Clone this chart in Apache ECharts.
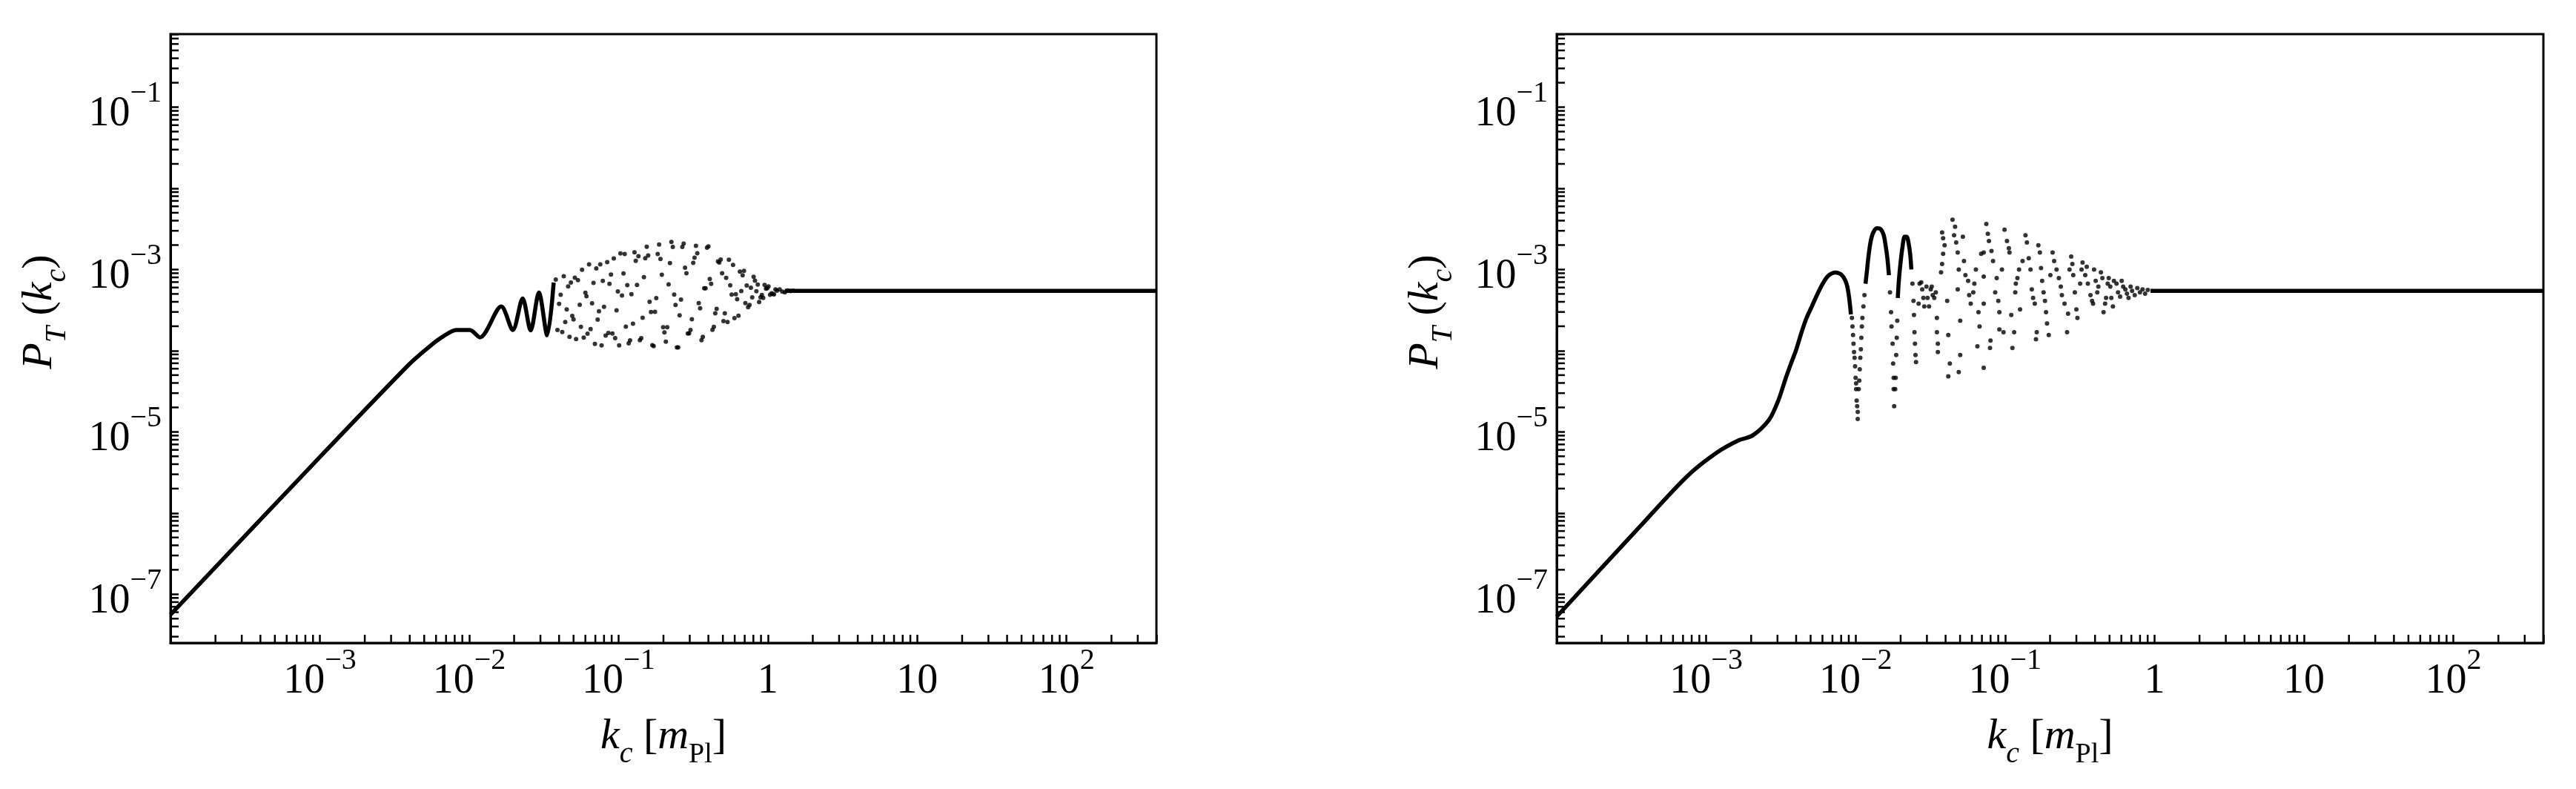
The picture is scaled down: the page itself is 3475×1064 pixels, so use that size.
<!DOCTYPE html>
<html><head><meta charset="utf-8">
<script src="https://cdn.jsdelivr.net/npm/echarts@6/dist/echarts.min.js"></script>
<style>html,body{margin:0;padding:0;background:#fff}#c{width:3475px;height:1064px}</style>
</head><body><div id="c"></div>
<script>
// ---------- axis ranges & tick labels ----------
const X_MIN = 1e-4, X_MAX = 400;
const Y_MIN = 2.512e-8, Y_MAX = 0.794;
const xTickValues = [1e-3, 1e-2, 1e-1, 1, 10, 100];
const xTickLabels = ['10^\u22123', '10^\u22122', '10^\u22121', '1', '10', '10^2'];
const yTickValues = [1e-7, 1e-5, 1e-3, 1e-1];
const yTickLabels = ['10^\u22127', '10^\u22125', '10^\u22123', '10^\u22121'];
const minorMultipliers = [2, 3, 4, 5, 6, 7, 8, 9];

// ---------- left panel data ----------
const leftLine = [[1.0e-4,5.6e-8],[8.9e-4,3.9e-6],[4.0e-3,6.9e-5],[5.5e-3,1.15e-4],[6.7e-3,1.5e-4],[8.2e-3,1.8e-4],[1.01e-2,1.8e-4],[1.18e-2,1.46e-4],[1.64e-2,3.5e-4],[1.96e-2,1.8e-4],[2.28e-2,4.4e-4],[2.58e-2,1.78e-4],[2.93e-2,5.2e-4],[3.33e-2,1.55e-4],[3.68e-2,6.9e-4]];
const leftFlat = [[1.3,5.45e-4],[400,5.45e-4]];
const leftCloudA = [[0.038,7.5e-4],[0.040,3.77e-4],[0.042,1.7e-4],[0.044,2.26e-4],[0.046,6.2e-4],[0.048,6.9e-4],[0.050,2.43e-4],[0.052,1.39e-4],[0.055,3.67e-4],[0.057,9.95e-4],[0.060,5.18e-4],[0.062,1.62e-4],[0.065,1.85e-4],[0.068,6.84e-4],[0.071,1.03e-3],[0.074,3.06e-4],[0.077,1.16e-4],[0.080,3.48e-4],[0.084,1.23e-3],[0.087,6.65e-4],[0.091,1.63e-4],[0.095,1.43e-4],[0.099,5.37e-4],[0.103,1.58e-3],[0.108,8.95e-4],[0.112,1.98e-4],[0.117,1.23e-4],[0.122,4.95e-4],[0.128,1.63e-3],[0.133,6.47e-4],[0.139,1.35e-4],[0.145,2.54e-4],[0.151,1.38e-3],[0.158,1.49e-3],[0.165,2.99e-4],[0.172,1.14e-4],[0.179,4.44e-4],[0.187,2.03e-3],[0.195,8.63e-4],[0.203,1.68e-4],[0.212,1.95e-4],[0.221,1.2e-3],[0.231,1.9e-3],[0.241,3.65e-4],[0.251,1.1e-4],[0.262,4.27e-4],[0.273,2.08e-3],[0.285,9.0e-4],[0.297,1.64e-4],[0.310,2.44e-4],[0.323,1.4e-3],[0.337,1.59e-3],[0.352,3.33e-4],[0.367,1.48e-4],[0.383,5.88e-4],[0.400,1.93e-3],[0.417,6.65e-4],[0.435,1.97e-4],[0.454,3.27e-4],[0.473,1.22e-3],[0.494,9.0e-4],[0.515,2.89e-4],[0.537,2.25e-4],[0.560,6.4e-4],[0.585,1.14e-3],[0.610,4.97e-4],[0.636,2.7e-4],[0.664,5.43e-4],[0.692,9.64e-4],[0.722,6.37e-4],[0.754,3.65e-4],[0.786,4.54e-4],[0.820,7.28e-4],[0.856,6.52e-4],[0.893,4.55e-4],[0.931,4.47e-4],[0.972,5.8e-4],[1.01,6.2e-4],[1.06,5.1e-4],[1.10,4.94e-4],[1.15,5.48e-4],[1.20,5.69e-4],[1.25,5.35e-4],[1.30,5.23e-4],[1.36,5.51e-4],[1.42,5.43e-4],[1.48,5.47e-4]];
const leftCloudB = [[0.039,1.80e-4],[0.041,4.89e-4],[0.043,8.26e-4],[0.045,3.22e-4],[0.047,1.48e-4],[0.049,2.68e-4],[0.051,7.94e-4],[0.0535,7.4e-4],[0.056,1.97e-4],[0.0585,1.45e-4],[0.061,4.68e-4],[0.0635,1.16e-3],[0.0665,3.83e-4],[0.0695,1.21e-4],[0.0725,2.42e-4],[0.0755,1.16e-3],[0.0785,7.26e-4],[0.082,1.54e-4],[0.0855,1.65e-4],[0.089,8.67e-4],[0.093,1.37e-3],[0.097,3.14e-4],[0.101,1.16e-4],[0.1055,4.78e-4],[0.11,1.55e-3],[0.1145,6.41e-4],[0.1195,1.34e-4],[0.125,2.15e-4],[0.1305,1.28e-3],[0.136,1.46e-3],[0.142,1.43e-4],[0.148,8.07e-4],[0.1545,1.91e-3],[0.1615,4.0e-4],[0.1685,1.17e-4],[0.1755,3.01e-4],[0.183,1.55e-3],[0.191,1.35e-3],[0.199,1.95e-4],[0.2075,1.29e-4],[0.2165,6.55e-4],[0.226,2.19e-3],[0.236,4.9e-4],[0.246,1.1e-4],[0.2565,2.72e-4],[0.2675,1.9e-3],[0.279,1.05e-3],[0.291,1.63e-4],[0.3035,1.8e-4],[0.3165,1.21e-3],[0.33,1.96e-3],[0.3445,3.85e-4],[0.3595,1.35e-4],[0.375,5.86e-4],[0.3915,1.86e-3],[0.4085,7.62e-4],[0.426,1.81e-4],[0.4445,2.88e-4],[0.4635,1.26e-3],[0.4835,1.33e-3],[0.5045,2.32e-4],[0.526,7.9e-4],[0.5485,1.32e-3],[0.5725,4.9e-4],[0.5975,2.52e-4],[0.623,4.3e-4],[0.65,9.44e-4],[0.678,8.47e-4],[0.707,3.85e-4],[0.738,3.44e-4],[0.77,5.96e-4],[0.803,8.13e-4],[0.838,5.4e-4],[0.8745,3.98e-4],[0.912,4.85e-4],[0.9515,6.47e-4],[0.99,5.86e-4],[1.035,4.89e-4],[1.08,5.01e-4],[1.125,5.69e-4]];

// ---------- right panel data ----------
const rightLine = [[1.0e-4,5.3e-8],[3.6e-4,6.8e-7],[7.4e-4,2.8e-6],[1.17e-3,5.5e-6],[1.66e-3,7.9e-6],[2.04e-3,9.0e-6],[2.63e-3,1.4e-5],[3.03e-3,2.4e-5],[3.41e-3,4.6e-5],[3.70e-3,7.0e-5],[4.01e-3,1.04e-4],[4.35e-3,1.69e-4],[4.70e-3,2.54e-4],[5.09e-3,3.5e-4],[5.75e-3,5.7e-4],[6.49e-3,8.2e-4],[7.31e-3,9.2e-4],[8.11e-3,8.5e-4],[8.79e-3,6.2e-4],[9.30e-3,2.8e-4]];
const rightArc2 = [[1.165e-2,6.68e-4],[1.193e-2,1.0e-3],[1.222e-2,1.5e-3],[1.262e-2,2.24e-3],[1.313e-2,2.86e-3],[1.389e-2,3.23e-3],[1.469e-2,3.15e-3],[1.542e-2,2.64e-3],[1.592e-2,1.91e-3],[1.631e-2,1.38e-3],[1.671e-2,8.51e-4]];
const rightArc3 = [[1.915e-2,4.46e-4],[1.946e-2,7.24e-4],[1.994e-2,1.17e-3],[2.06e-2,1.91e-3],[2.126e-2,2.53e-3],[2.195e-2,2.53e-3],[2.266e-2,2.07e-3],[2.322e-2,1.5e-3],[2.36e-2,1.0e-3]];
const rightDips = [[9.45e-3,2.53e-4],[9.53e-3,1.99e-4],[9.61e-3,1.56e-4],[9.68e-3,1.22e-4],[9.76e-3,9.6e-5],[9.84e-3,8.17e-5],[9.92e-3,6.41e-5],[1.0e-2,4.64e-5],[1.008e-2,3.95e-5],[1.008e-2,3.36e-5],[1.016e-2,2.43e-5],[1.024e-2,2.07e-5],[1.033e-2,1.76e-5],[1.033e-2,1.44e-5],[1.049e-2,3.36e-5],[1.058e-2,4.28e-5],[1.066e-2,5.91e-5],[1.075e-2,8.17e-5],[1.084e-2,1.04e-4],[1.092e-2,1.44e-4],[1.101e-2,1.99e-4],[1.11e-2,2.53e-4],[1.128e-2,3.5e-4],[1.146e-2,4.83e-4],[1.698e-2,5.24e-4],[1.726e-2,2.98e-4],[1.739e-2,1.99e-4],[1.768e-2,1.22e-4],[1.782e-2,6.95e-5],[1.796e-2,4.64e-5],[1.796e-2,3.36e-5],[1.811e-2,2.07e-5],[1.84e-2,3.36e-5],[1.854e-2,4.64e-5],[1.869e-2,8.86e-5],[1.884e-2,1.44e-4],[1.9e-2,2.34e-4],[2.4e-2,6.68e-4],[2.438e-2,4.11e-4],[2.457e-2,2.75e-4],[2.477e-2,1.69e-4],[2.496e-2,1.22e-4],[2.516e-2,8.86e-5],[2.536e-2,7.24e-5]];
const rightCloud = [[0.0264,3.79e-4],[0.0268,6.68e-4],[0.0275,6.95e-4],[0.0279,5.68e-4],[0.0284,4.46e-4],[0.0288,3.5e-4],[0.0298,6.16e-4],[0.0303,4.46e-4],[0.031,3.5e-4],[0.0318,5.68e-4],[0.0323,6.16e-4],[0.0328,4.83e-4],[0.0336,4.46e-4],[0.0344,5.24e-4],[0.035,2.53e-4],[0.035,1.69e-4],[0.0355,1.22e-4],[0.0355,9.6e-5],
[0.0373,9.23e-4],[0.0379,2.86e-3],[0.0379,1.17e-3],[0.0385,2.43e-3],[0.0385,1.56e-3],[0.0394,1.99e-3],[0.041,4.11e-4],[0.0417,1.56e-4],[0.0417,4.83e-5],[0.0427,6.95e-5],[0.0445,4.11e-3],[0.0456,2.64e-3],[0.0463,3.36e-3],[0.0471,2.15e-3],[0.0482,1.62e-3],[0.0482,5.68e-4],[0.049,1.0e-3],[0.049,5.45e-5],[0.0501,2.34e-4],[0.0501,8.86e-5],[0.0522,2.53e-3],[0.0531,1.27e-3],[0.0543,8.51e-4],[0.0566,7.24e-4],[0.0575,4.83e-4],[0.0589,3.79e-4],[0.0613,5.24e-4],[0.0623,6.68e-4],[0.0638,1.0e-3],[0.0653,1.13e-4],[0.0664,2.98e-4],[0.0675,1.99e-4],[0.0692,1.56e-3],[0.072,1.62e-3],[0.072,8.17e-4],[0.072,3.79e-4],[0.072,6.16e-5],[0.0749,3.64e-3],[0.0767,2.75e-3],[0.078,2.24e-3],[0.0793,1.08e-4],[0.0799,1.33e-4],[0.0811,1.69e-3],[0.0831,1.27e-3],[0.0859,5.24e-4],[0.0879,7.85e-4],[0.0901,4.11e-4],[0.0916,2.98e-4],[0.0916,1.83e-4],[0.0953,1.0e-3],[0.0976,1.69e-4],[0.0992,3.1e-3],[0.103,2.24e-3],[0.106,1.83e-3],[0.107,1.62e-3],[0.110,2.75e-4],[0.112,1.08e-4],[0.115,1.69e-4],[0.117,5.24e-4],[0.118,6.68e-4],[0.121,7.85e-4],[0.124,1.0e-3],[0.126,3.23e-4],[0.131,1.27e-3],[0.137,2.64e-3],[0.140,2.15e-3],[0.144,1.38e-3],[0.148,1.0e-3],[0.151,5.68e-4],[0.154,4.46e-4],[0.158,3.79e-4],[0.161,1.38e-4],[0.163,1.69e-4],[0.167,1.99e-3],[0.171,1.62e-3],[0.174,1.04e-3],[0.177,7.24e-4],[0.181,5.24e-4],[0.185,4.11e-4],[0.188,2.98e-4],[0.191,2.16e-4],[0.196,1.56e-4],[0.201,8.51e-4],[0.208,1.62e-3],[0.213,1.27e-3],[0.221,1.0e-3],[0.229,7.85e-4],[0.236,6.16e-4],[0.240,4.83e-4],[0.250,3.79e-4],[0.260,1.69e-4],[0.264,2.86e-4],[0.270,1.0e-3],[0.277,1.44e-3],[0.282,1.17e-3],[0.286,8.51e-4],[0.293,5.24e-4],[0.300,3.23e-4],[0.305,2.53e-4],[0.318,6.68e-4],[0.325,1.0e-3],[0.330,1.22e-3],[0.344,8.51e-4],[0.352,1.08e-3],[0.358,6.68e-4],[0.373,4.83e-4],[0.382,4.11e-4],[0.388,3.79e-4],[0.394,1.0e-3],[0.404,7.24e-4],[0.414,5.24e-4],[0.421,6.16e-4],[0.438,9.23e-4],[0.448,7.85e-4],[0.456,2.98e-4],[0.467,3.79e-4],[0.474,4.46e-4],[0.486,6.68e-4],[0.494,7.85e-4],[0.506,6.16e-4],[0.514,4.46e-4],[0.527,3.5e-4],[0.535,7.24e-4],[0.557,6.68e-4],[0.570,5.24e-4],[0.589,4.64e-4],[0.603,7.24e-4],[0.617,6.16e-4],[0.638,5.68e-4],[0.654,5.03e-4],[0.670,4.46e-4],[0.692,6.16e-4],[0.708,5.45e-4],[0.737,4.83e-4],[0.767,5.91e-4],[0.799,5.24e-4],[0.832,5.68e-4],[0.865,5.03e-4],[0.901,5.59e-4]];
const rightFlat = [[0.94,5.45e-4],[400,5.45e-4]];

// ---------- styling helpers ----------
const FONT = 'Liberation Serif';
function richLabel(s) {
  const p = s.split('^');
  return p.length > 1 ? '{b|' + p[0] + '}{s|' + p[1] + '}' : '{b|' + p[0] + '}';
}
function makeFormatter(values, labels) {
  return function (v) {
    const lv = Math.log10(v);
    for (let i = 0; i < values.length; i++) {
      if (Math.abs(lv - Math.log10(values[i])) < 1e-6) return richLabel(labels[i]);
    }
    return '';
  };
}
const tickRich = {
  b: { fontFamily: FONT, fontSize: 56, lineHeight: 76, verticalAlign: 'bottom', color: '#000' },
  s: { fontFamily: FONT, fontSize: 40, lineHeight: 40, verticalAlign: 'top', color: '#000' }
};
const nameRich = {
  i: { fontFamily: FONT, fontStyle: 'italic', fontSize: 58, lineHeight: 72, verticalAlign: 'top', color: '#000' },
  r: { fontFamily: FONT, fontSize: 58, lineHeight: 72, verticalAlign: 'top', color: '#000' },
  si: { fontFamily: FONT, fontStyle: 'italic', fontSize: 40, lineHeight: 36, verticalAlign: 'bottom', color: '#000' },
  sr: { fontFamily: FONT, fontSize: 38, lineHeight: 36, verticalAlign: 'bottom', color: '#000' }
};
const tickStyle = { show: true, inside: true, length: 11, lineStyle: { color: '#000', width: 2.5 } };

function xAxisFor(grid) {
  return {
    type: 'log', gridIndex: grid, min: X_MIN, max: X_MAX, splitNumber: 10,
    name: '{i|k}{si|c}{r| [}{i|m}{sr|Pl}{r|]}', nameLocation: 'middle', nameGap: 98,
    nameTextStyle: { rich: nameRich },
    axisLine: { show: true, lineStyle: { color: '#000', width: 3 } },
    axisTick: tickStyle, splitLine: { show: false },
    axisLabel: { interval: 0, margin: 4, formatter: makeFormatter(xTickValues, xTickLabels), rich: tickRich }
  };
}
function yAxisFor(grid) {
  return {
    type: 'log', gridIndex: grid, min: Y_MIN, max: Y_MAX, splitNumber: 10,
    name: '{i|P}{si|T}{r| (}{i|k}{si|c}{r|)}', nameLocation: 'middle', nameGap: 133, nameRotate: 90,
    nameTextStyle: { rich: nameRich, padding: [0, 0, 0, 72] },
    axisLine: { show: true, lineStyle: { color: '#000', width: 3 } },
    axisTick: tickStyle, splitLine: { show: false },
    axisLabel: { interval: 0, margin: 12, formatter: makeFormatter(yTickValues, yTickLabels), rich: tickRich }
  };
}
function minorValues(lo, hi, expLo, expHi) {
  const out = [];
  for (let e = expLo; e <= expHi; e++) {
    minorMultipliers.forEach(m => { const v = m * Math.pow(10, e); if (v > lo && v < hi) out.push(v); });
  }
  return out;
}
function minorTickSeries(grid, dir) {
  const vals = dir === 'x' ? minorValues(X_MIN, X_MAX, -4, 2) : minorValues(Y_MIN, Y_MAX, -8, -1);
  return {
    type: 'custom', xAxisIndex: grid, yAxisIndex: grid, silent: true, clip: false, z: 5,
    data: vals.map(v => dir === 'x' ? [v, Y_MIN] : [X_MIN, v]),
    renderItem: function (params, api) {
      const p = api.coord([api.value(0), api.value(1)]);
      const shape = dir === 'x' ? { x1: p[0], y1: p[1], x2: p[0], y2: p[1] - 11 }
                                : { x1: p[0], y1: p[1], x2: p[0] + 11, y2: p[1] };
      return { type: 'line', shape: shape, style: { stroke: '#000', lineWidth: 2.5 } };
    }
  };
}
function lineSeries(grid, data, smooth) {
  return { type: 'line', xAxisIndex: grid, yAxisIndex: grid, data: data, showSymbol: false, symbol: 'none',
    smooth: smooth, lineStyle: { color: '#000', width: 5.5 }, silent: true, z: 3 };
}
function dotSeries(grid, data) {
  return { type: 'scatter', xAxisIndex: grid, yAxisIndex: grid, data: data, symbol: 'circle', symbolSize: 6,
    itemStyle: { color: '#000' }, silent: true, z: 3 };
}

const chart = echarts.init(document.getElementById('c'), null, { renderer: 'canvas' });
chart.setOption({
  animation: false,
  backgroundColor: '#fff',
  grid: [
    { left: 230, top: 46, width: 1330, height: 821, show: true, borderColor: '#000', borderWidth: 3, backgroundColor: 'transparent' },
    { left: 2100, top: 46, width: 1331, height: 821, show: true, borderColor: '#000', borderWidth: 3, backgroundColor: 'transparent' }
  ],
  xAxis: [xAxisFor(0), xAxisFor(1)],
  yAxis: [yAxisFor(0), yAxisFor(1)],
  series: [
    lineSeries(0, leftLine, 0.3),
    lineSeries(0, leftFlat, false),
    dotSeries(0, leftCloudA),
    dotSeries(0, leftCloudB),
    minorTickSeries(0, 'x'),
    minorTickSeries(0, 'y'),
    lineSeries(1, rightLine, 0.3),
    lineSeries(1, rightArc2, 0.3),
    lineSeries(1, rightArc3, 0.3),
    lineSeries(1, rightFlat, false),
    dotSeries(1, rightDips),
    dotSeries(1, rightCloud),
    minorTickSeries(1, 'x'),
    minorTickSeries(1, 'y')
  ]
});
</script></body></html>
